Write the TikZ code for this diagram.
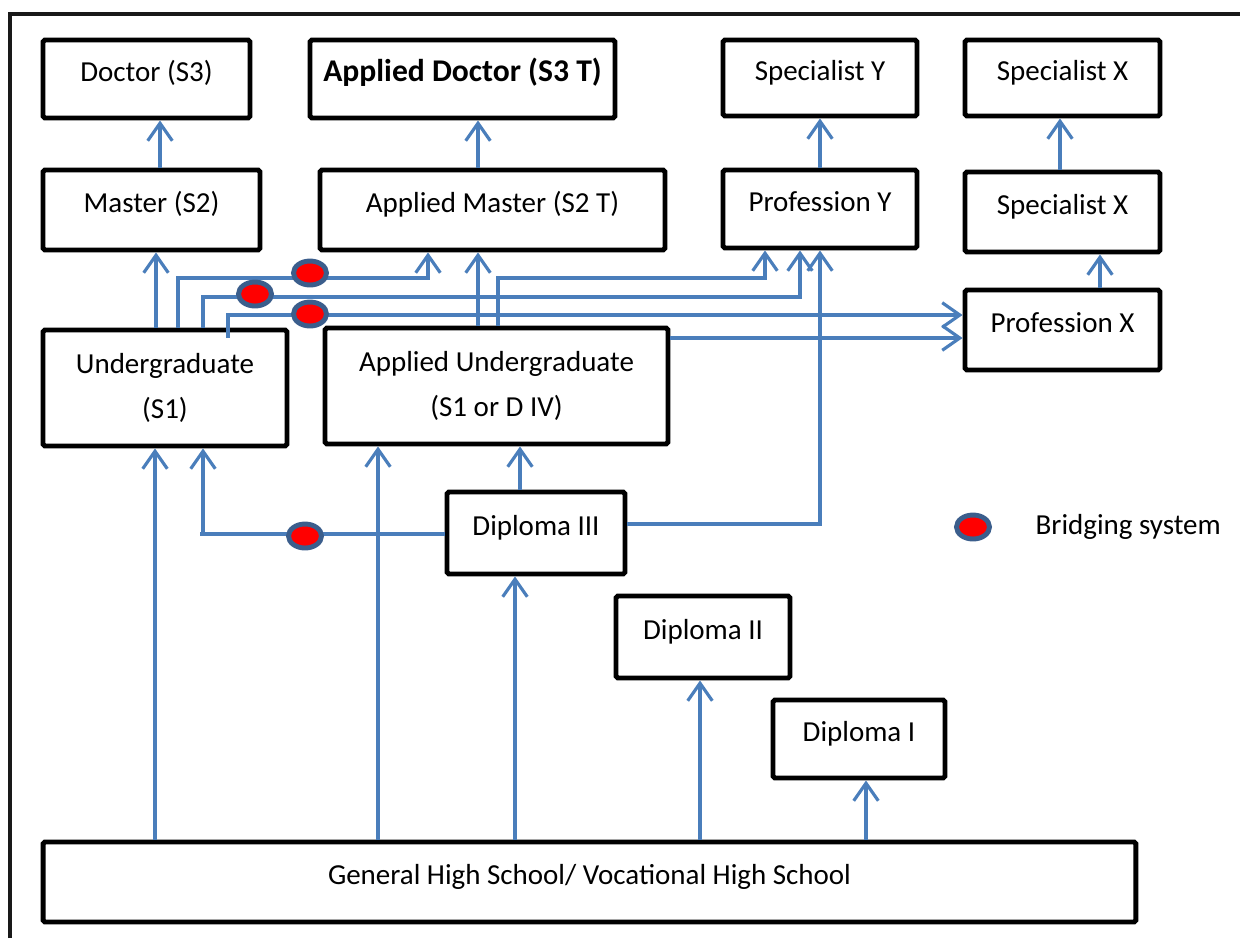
\documentclass[tikz,border=0pt]{standalone}
\usepackage{fontspec}
\setmainfont{Carlito}
\usepackage{xcolor}
\usetikzlibrary{positioning,calc,shapes.geometric,arrows.meta}
\definecolor{linkblue}{HTML}{4A7EBB}
\definecolor{bridgerim}{HTML}{3B5E8C}
\tikzset{
  frame/.style={draw=black!90, line width=2.2pt},
  base/.style={draw, line width=2.8pt, rounded corners=1pt, inner sep=0pt, font=\fontsize{16.5}{26}\selectfont},
  box/.style={base, text height=12pt, text depth=9.4pt},
  tallbox/.style={base, align=center},
  link/.style={draw=linkblue, line width=1.8pt, -{Straight Barb[length=10pt,width=14pt]}},
  bridge/.style={ellipse, draw=bridgerim, fill=red, line width=2.8pt, inner sep=0pt, minimum width=0.66cm, minimum height=0.48cm}
}

\begin{document}
\begin{tikzpicture}[x=0.02cm, y=-0.02cm]
    \useasboundingbox (0,0) rectangle (1240,938);
    \draw[frame] (10,938) |- (1240,14);

    % top rows
    \node[box, minimum width=4.14cm, minimum height=1.56cm] (doc) at (146.5,79) {Doctor (S3)};
    \node[box, minimum width=6.1cm, minimum height=1.56cm] (adoc) at (462.5,79) {\fontsize{18}{22}\selectfont\textbf{Applied Doctor (S3 T)}};
    \node[box, minimum width=3.88cm, minimum height=1.52cm] (spy) at (820,78) {Specialist Y};
    \node[box, minimum width=3.9cm, minimum height=1.52cm] (spx) at (1062.5,78) {Specialist X};
    \node[box, minimum width=4.34cm, minimum height=1.6cm] (mas) at (151.5,210) {Master (S2)};
    \node[box, minimum width=6.9cm, minimum height=1.6cm] (amas) at (492.5,210) {Applied Master (S2 T)};
    \node[box, minimum width=3.88cm, minimum height=1.56cm] (proy) at (820,209) {Profession Y};
    \node[box, minimum width=3.9cm, minimum height=1.6cm] (spxb) at (1062.5,212) {Specialist X};
    \node[box, minimum width=3.9cm, minimum height=1.6cm] (prox) at (1062.5,330) {Profession X};

    % undergraduate level
    \node[tallbox, minimum width=4.88cm, minimum height=2.32cm] (und) at (165,388) {Undergraduate\\(S1)};
    \node[tallbox, minimum width=6.86cm, minimum height=2.32cm] (aund) at (496.5,386) {Applied Undergraduate\\(S1 or D IV)};

    % diplomas and school
    \node[box, minimum width=3.56cm, minimum height=1.64cm] (dthree) at (536,533) {Diploma III};
    \node[box, minimum width=3.48cm, minimum height=1.64cm] (dtwo) at (703,637) {Diploma II};
    \node[box, minimum width=3.44cm, minimum height=1.56cm] (done) at (859,739) {Diploma I};
    \node[box, minimum width=21.86cm, minimum height=1.6cm] (school) at (589.5,882) {General High School/ Vocational High School};

    % straight upward links
    \draw[link] (160,0 |- mas.north) -- (160,0 |- doc.south);
    \draw[link] (478,0 |- amas.north) -- (478,0 |- adoc.south);
    \draw[link] (proy.north) -- (spy.south);
    \draw[link] (1060,0 |- spxb.north) -- (1060,0 |- spx.south);
    \draw[link] (1100,0 |- prox.north) -- (1100,0 |- spxb.south);
    \draw[link] (156,0 |- und.north) -- (156,0 |- mas.south);
    \draw[link] (478,0 |- aund.north) -- (478,0 |- amas.south);
    \draw[link] (520,0 |- dthree.north) -- (520,0 |- aund.south);

    % bridging routes out of S1
    \draw[link] (178,0 |- und.north) -- (178,278) -| (428,0 |- amas.south);
    \draw[link] (203,0 |- und.north) -- (203,297) -| (800,0 |- proy.south);
    \draw[link] (228,338) -- (228,315) -- (prox.west |- 0,315);
    % routes out of applied S1 and D III
    \draw[link] (498,0 |- aund.north) -- (498,278) -| (765,0 |- proy.south);
    \draw[link] (aund.east |- 0,338) -- (prox.west |- 0,338);
    \draw[link] (dthree.east |- 0,524) -- (820,524) -- (820,0 |- proy.south);
    \draw[link] (dthree.west |- 0,534) -- (200,534) -| (203,0 |- und.south);

    % from high school
    \draw[link] (155,0 |- school.north) -- (155,0 |- und.south);
    \draw[link] (378,0 |- school.north) -- (378,0 |- aund.south);
    \draw[link] (515,0 |- school.north) -- (515,0 |- dthree.south);
    \draw[link] (700,0 |- school.north) -- (700,0 |- dtwo.south);
    \draw[link] (866,0 |- school.north) -- (866,0 |- done.south);

    % bridging marks
    \node[bridge] (bra) at (310,273) {};
    \node[bridge] (brb) at (255,294) {};
    \node[bridge] (brc) at (310,314) {};
    \node[bridge] (brd) at (305,536) {};

    \node[bridge] (key) at (973,527) {};
    \node[right=0.75cm of key, font=\fontsize{16.5}{20}\selectfont] (keytext) {Bridging system};
\end{tikzpicture}
\end{document}
